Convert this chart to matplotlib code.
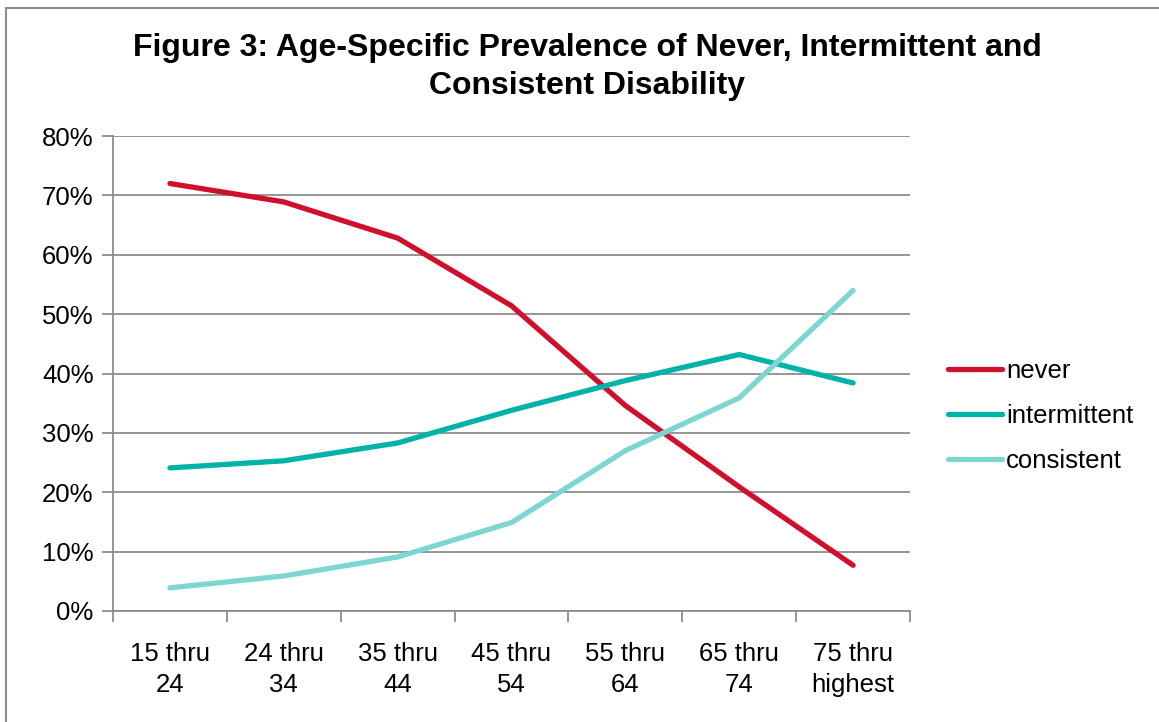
import matplotlib
matplotlib.use("Agg")
import matplotlib.pyplot as plt
from matplotlib.patches import Rectangle
from matplotlib.ticker import FuncFormatter, FixedLocator

plt.rcParams['font.family'] = ['Liberation Sans', 'DejaVu Sans']

age_groups = ["15 thru\n24", "24 thru\n34", "35 thru\n44", "45 thru\n54",
              "55 thru\n64", "65 thru\n74", "75 thru\nhighest"]
never = [72.0, 68.9, 62.8, 51.4, 34.6, 20.9, 7.7]
intermittent = [24.1, 25.3, 28.3, 33.8, 38.8, 43.2, 38.4]
consistent = [3.9, 5.9, 9.1, 14.9, 27.0, 35.9, 54.0]

fig = plt.figure(figsize=(11.59, 7.22), dpi=100)
ax = fig.add_axes([113 / 1159, 1 - 611 / 722, (910 - 113) / 1159, (611 - 136) / 722])

# outer chart border
fig.patches.append(Rectangle((6 / 1159, -0.05), 1.2, 1 - 8 / 722 + 0.05,
                             transform=fig.transFigure, fill=False,
                             edgecolor="#8c8c8c", linewidth=1.5))

x = [i + 0.5 for i in range(len(age_groups))]
ax.plot(x, never, color="#D0102B", lw=3.8, label="never", solid_capstyle="round")
ax.plot(x, intermittent, color="#00B3A9", lw=3.8, label="intermittent", solid_capstyle="round")
ax.plot(x, consistent, color="#7ED6D0", lw=3.8, label="consistent", solid_capstyle="round")

ax.set_xlim(0, len(age_groups))
ax.set_ylim(0, 80)
ax.set_yticks(range(0, 81, 10))
ax.yaxis.set_major_formatter(FuncFormatter(lambda v, p: f"{int(v)}%"))
ax.xaxis.set_major_locator(FixedLocator(range(len(age_groups) + 1)))
ax.set_xticklabels([])
ax.set_xticks(x, minor=True)
ax.set_xticklabels(age_groups, minor=True, fontsize=18.5, linespacing=1.4)
ax.tick_params(axis="x", which="minor", length=0, pad=22)
ax.tick_params(axis="x", which="major", length=8, width=1.3, color="#8c8c8c", direction="out")
ax.tick_params(axis="y", length=8, width=1.3, color="#8c8c8c", labelsize=18.5, pad=6)

ax.grid(axis="y", color="#8c8c8c", lw=1.3)
ax.set_axisbelow(True)
for s in ["top", "right"]:
    ax.spines[s].set_visible(False)
for s in ["left", "bottom"]:
    ax.spines[s].set_color("#8c8c8c")
    ax.spines[s].set_linewidth(1.3)

fig.text(587 / 1159, 1 - 67 / 722,
         "Figure 3: Age-Specific Prevalence of Never, Intermittent and\nConsistent Disability",
         ha="center", va="center", fontsize=23, fontweight="bold", linespacing=1.35)

ax.legend(loc="center left", bbox_to_anchor=(1.035, (611 - 416) / 475), frameon=False,
          fontsize=18.5, handlelength=2.1, handletextpad=0.15, labelspacing=0.8,
          borderaxespad=0)

fig.savefig("out.png", dpi=100)
